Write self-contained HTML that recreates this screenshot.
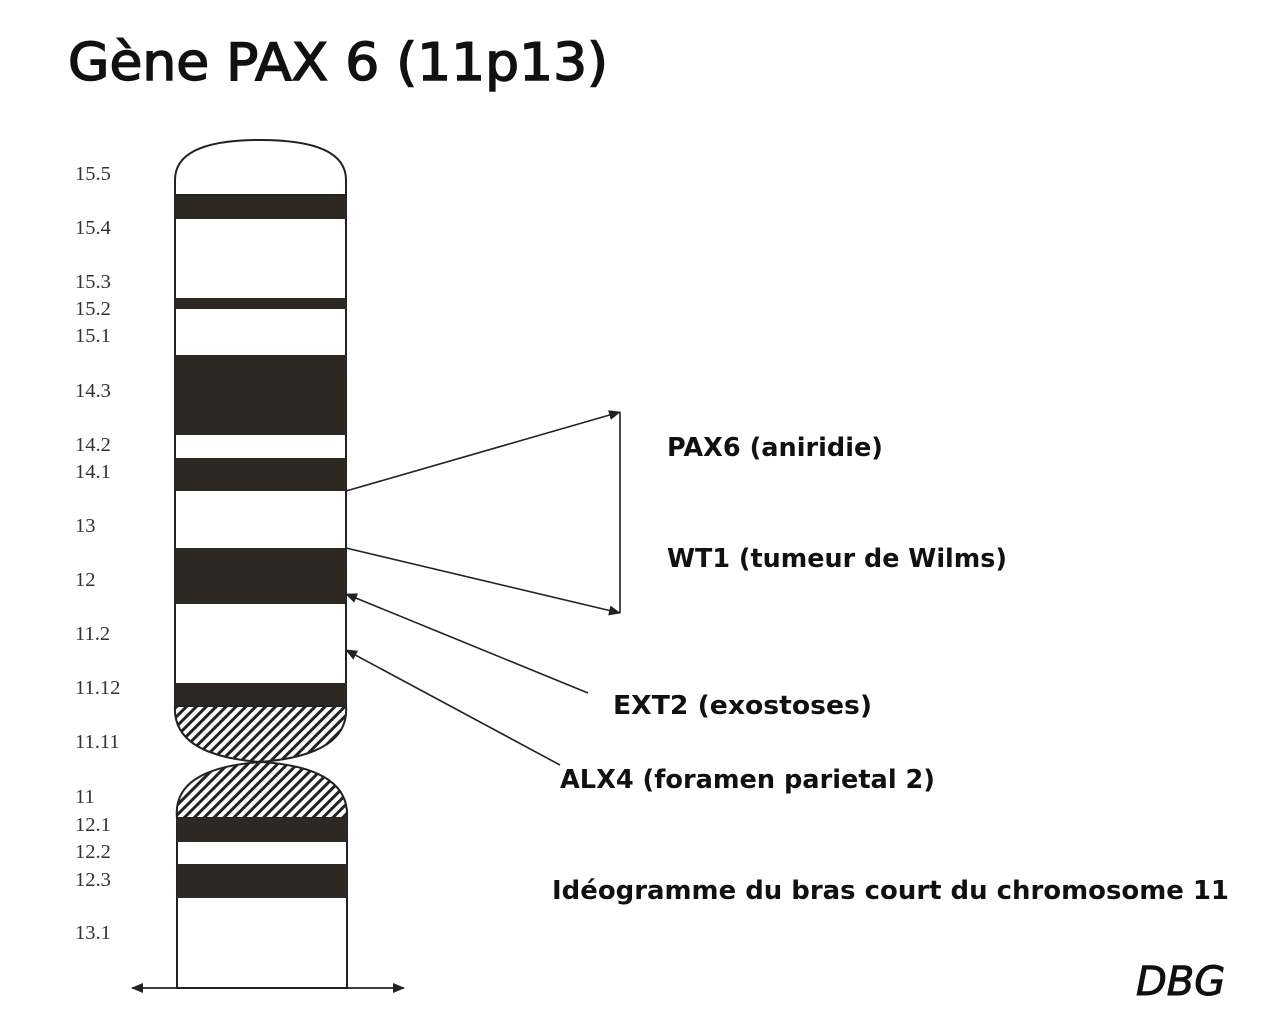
<!DOCTYPE html>
<html><head><meta charset="utf-8"><style>
body{margin:0;background:#fff;}
svg{display:block}
.l{font-family:"Liberation Serif",serif;font-size:20.5px;fill:#333}
.b{font-family:"DejaVu Sans","Liberation Sans",sans-serif;font-weight:bold;font-size:26px;fill:#111}
</style></head><body>
<svg width="1280" height="1021" viewBox="0 0 1280 1021">
<defs>
<pattern id="h" width="7" height="7" patternUnits="userSpaceOnUse" patternTransform="rotate(45)">
<rect width="7" height="7" fill="#fff"/><rect width="3" height="7" fill="#222"/></pattern>
<marker id="a" markerWidth="12" markerHeight="10" refX="11" refY="5" orient="auto" markerUnits="userSpaceOnUse"><path d="M0,0 L12,5 L0,10 z" fill="#222"/></marker>
</defs>
<text x="68" y="80" textLength="540" lengthAdjust="spacingAndGlyphs" style="font-family:'DejaVu Sans',sans-serif;font-size:52px;fill:#111;stroke:#111;stroke-width:1.5">Gène PAX 6 (11p13)</text>
<g class="l">
<text x="75" y="180">15.5</text><text x="75" y="234">15.4</text><text x="75" y="288">15.3</text><text x="75" y="315">15.2</text><text x="75" y="342">15.1</text><text x="75" y="397">14.3</text><text x="75" y="451">14.2</text><text x="75" y="478">14.1</text><text x="75" y="532">13</text><text x="75" y="586">12</text><text x="75" y="640">11.2</text><text x="75" y="694">11.12</text><text x="75" y="748">11.11</text><text x="75" y="803">11</text><text x="75" y="831">12.1</text><text x="75" y="858">12.2</text><text x="75" y="886">12.3</text><text x="75" y="939">13.1</text>
</g>
<g stroke="#222" stroke-width="2">
<path d="M175,195 L175,180 Q175,140 260,140 Q346,140 346,180 L346,195" fill="#fff"/>
<rect x="175" y="195" width="171" height="511" fill="#fff"/>
</g>
<g fill="#2e2822">
<rect x="175" y="196" width="171" height="23"/><rect x="175" y="298" width="171" height="11"/><rect x="175" y="355" width="171" height="80"/><rect x="175" y="458" width="171" height="33"/><rect x="175" y="548" width="171" height="56"/><rect x="175" y="683" width="171" height="23"/>
</g>
<path d="M175,706 L346,706 Q350,755 260,762 Q172,755 175,706 z" fill="url(#h)" stroke="#222" stroke-width="2"/>
<path d="M177,818 Q172,768 262,762 Q350,768 347,818 z" fill="url(#h)" stroke="#222" stroke-width="2"/>
<rect x="177" y="818" width="170" height="170" fill="#fff" stroke="#222" stroke-width="2"/>
<rect x="177" y="818" width="170" height="24" fill="#2e2822"/>
<rect x="177" y="864" width="170" height="34" fill="#2e2822"/>
<g stroke="#222" stroke-width="1.6" fill="none">
<line x1="135" y1="988" x2="404" y2="988" marker-end="url(#a)"/>
<line x1="400" y1="988" x2="132" y2="988" marker-end="url(#a)"/>
<line x1="346" y1="491" x2="620" y2="412" marker-end="url(#a)"/>
<line x1="346" y1="548" x2="620" y2="613" marker-end="url(#a)"/>
<line x1="620" y1="412" x2="620" y2="613"/>
<line x1="588" y1="693" x2="346" y2="594" marker-end="url(#a)"/>
<line x1="560" y1="765" x2="346" y2="650" marker-end="url(#a)"/>
</g>
<text class="b" x="667" y="456" textLength="216" lengthAdjust="spacingAndGlyphs">PAX6 (aniridie)</text>
<text class="b" x="667" y="567" textLength="340" lengthAdjust="spacingAndGlyphs">WT1 (tumeur de Wilms)</text>
<text class="b" x="613" y="714" textLength="259" lengthAdjust="spacingAndGlyphs">EXT2 (exostoses)</text>
<text class="b" x="560" y="788" textLength="375" lengthAdjust="spacingAndGlyphs">ALX4 (foramen parietal 2)</text>
<text class="b" x="552" y="899" textLength="677" lengthAdjust="spacingAndGlyphs">Idéogramme du bras court du chromosome 11</text>
<text x="1136" y="995" style="font-family:'DejaVu Sans',sans-serif;font-style:italic;font-size:40px;fill:#111;stroke:#111;stroke-width:1">DBG</text>
</svg>
</body></html>
